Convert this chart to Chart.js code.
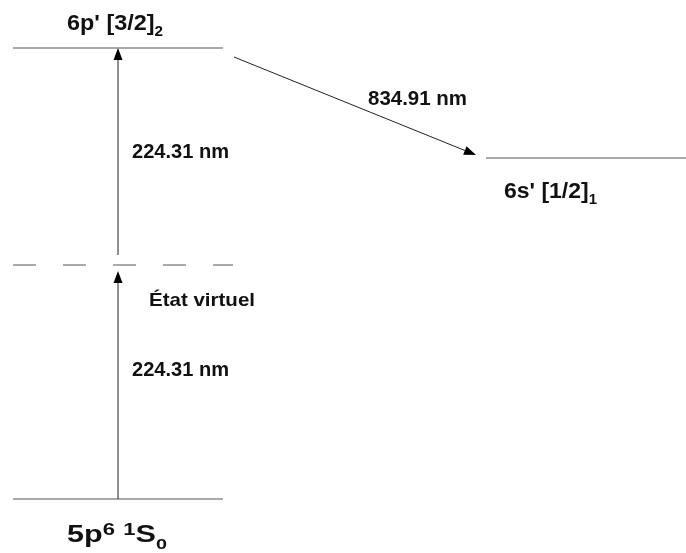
<!DOCTYPE html>
<html>
<head>
<meta charset="utf-8">
<script src="https://cdn.jsdelivr.net/npm/chart.js@4"></script>
<style>
  html, body { margin: 0; padding: 0; background: #fff; }
  #diagram { display: block; }
</style>
</head>
<body>
<canvas id="diagram" width="686" height="553"></canvas>
<script>
// energy levels (arbitrary vertical units), and horizontal extents
const levelNames = ['ground', 'virtual', 'sPrime', 'pPrime'];
const levelEnergy = [54, 288, 395, 505];
const levelXStart = [13, 13, 486, 13];
const levelXEnd = [223, 233, 686, 223];

// transitions: from level index -> to level index, with wavelength label
const transFrom = [0, 1, 3];
const transTo = [1, 3, 2];
const transLabels = ['224.31 nm', '224.31 nm', '834.91 nm'];

const FONT = '"Liberation Sans", Arial, sans-serif';

function levelDataset(i) {
  return {
    label: levelNames[i],
    data: [
      { x: levelXStart[i], y: levelEnergy[i] },
      { x: levelXEnd[i], y: levelEnergy[i] },
    ],
    showLine: true,
    borderColor: '#555',
    borderWidth: 1,
    borderDash: levelNames[i] === 'virtual' ? [23, 27] : [],
    pointRadius: 0,
  };
}

function drawArrow(ctx, x1, y1, x2, y2) {
  const ang = Math.atan2(y2 - y1, x2 - x1);
  const len = 12;
  const half = 4.5;
  const bx = x2 - len * Math.cos(ang);
  const by = y2 - len * Math.sin(ang);
  ctx.beginPath();
  ctx.moveTo(x1, y1);
  ctx.lineTo(bx, by);
  ctx.strokeStyle = '#222';
  ctx.lineWidth = 1;
  ctx.stroke();
  ctx.beginPath();
  ctx.moveTo(x2, y2);
  ctx.lineTo(bx - half * Math.sin(ang), by + half * Math.cos(ang));
  ctx.lineTo(bx + half * Math.sin(ang), by - half * Math.cos(ang));
  ctx.closePath();
  ctx.fillStyle = '#000';
  ctx.fill();
}

// draws text made of parts: [text, 'n' | 'sup' | 'sub'], stretched to a target width
function drawRich(ctx, parts, x, y, size, width) {
  const styled = parts.map(([text, kind]) => {
    let s = size;
    let dy = 0;
    if (kind === 'sub') { s = size * 0.65; dy = size * 0.28; }
    if (kind === 'sup') { s = size * 0.72; dy = -size * 0.3; }
    return { text, s, dy };
  });
  let total = 0;
  for (const p of styled) {
    ctx.font = 'bold ' + p.s + 'px ' + FONT;
    total += ctx.measureText(p.text).width;
  }
  const sx = width ? width / total : 1;
  ctx.save();
  ctx.translate(x, y);
  ctx.scale(sx, 1);
  let cx = 0;
  for (const p of styled) {
    ctx.font = 'bold ' + p.s + 'px ' + FONT;
    ctx.fillText(p.text, cx, p.dy);
    cx += ctx.measureText(p.text).width;
  }
  ctx.restore();
}

const diagramPlugin = {
  id: 'diagram',
  afterDatasetsDraw(chart) {
    const ctx = chart.ctx;
    const xs = chart.scales.x;
    const ys = chart.scales.y;
    const px = (v) => xs.getPixelForValue(v);
    const py = (v) => ys.getPixelForValue(v);
    ctx.save();

    // arrows
    const colX = px(118);
    for (let t = 0; t < transFrom.length; t++) {
      const a = transFrom[t];
      const b = transTo[t];
      if (levelNames[b] === 'sPrime') {
        drawArrow(ctx, px(levelXEnd[a]) + 11, py(levelEnergy[a]) + 9,
          px(levelXStart[b]) - 10, py(levelEnergy[b]) - 3);
      } else {
        const startGap = levelNames[a] === 'virtual' ? 10 : 0;
        const endGap = levelNames[b] === 'virtual' ? 6 : 0;
        drawArrow(ctx, colX, py(levelEnergy[a]) - startGap, colX, py(levelEnergy[b]) + endGap);
      }
    }

    // wavelength labels
    ctx.fillStyle = '#111';
    ctx.textBaseline = 'alphabetic';
    for (let t = 0; t < transFrom.length; t++) {
      const a = transFrom[t];
      const b = transTo[t];
      if (levelNames[b] === 'sPrime') {
        drawRich(ctx, [[transLabels[t], 'n']], px(368), py(levelEnergy[b]) - 53, 20, 99);
      } else {
        const mid = (py(levelEnergy[a]) + py(levelEnergy[b])) / 2;
        drawRich(ctx, [[transLabels[t], 'n']], colX + 14,
          mid + (levelNames[a] === 'ground' ? -6 : 1), 20, 97);
      }
    }

    // level labels
    const vi = levelNames.indexOf('virtual');
    drawRich(ctx, [['État virtuel', 'n']], px(149), py(levelEnergy[vi]) + 41, 18.5, 106);

    const pi = levelNames.indexOf('pPrime');
    drawRich(ctx, [["6p' [3/2]", 'n'], ['2', 'sub']], px(67), py(levelEnergy[pi]) - 18, 22, 96);
    const si = levelNames.indexOf('sPrime');
    drawRich(ctx, [["6s' [1/2]", 'n'], ['1', 'sub']], px(504), py(levelEnergy[si]) + 40, 22, 93);
    const gi = levelNames.indexOf('ground');
    drawRich(ctx, [['5p', 'n'], ['6', 'sup'], [' ', 'n'], ['1', 'sup'], ['S', 'n'], ['0', 'sub']],
      px(67), py(levelEnergy[gi]) + 43, 23.5, 100);

    ctx.restore();
  },
};

new Chart(document.getElementById('diagram'), {
  type: 'scatter',
  data: { datasets: levelNames.map((_, i) => levelDataset(i)) },
  options: {
    responsive: false,
    animation: false,
    devicePixelRatio: 1,
    layout: { padding: 0 },
    plugins: { legend: { display: false }, tooltip: { enabled: false } },
    scales: {
      x: { type: 'linear', min: 0, max: 686, display: false },
      y: { type: 'linear', min: 0, max: 553, display: false },
    },
  },
  plugins: [diagramPlugin],
});
</script>
</body>
</html>
